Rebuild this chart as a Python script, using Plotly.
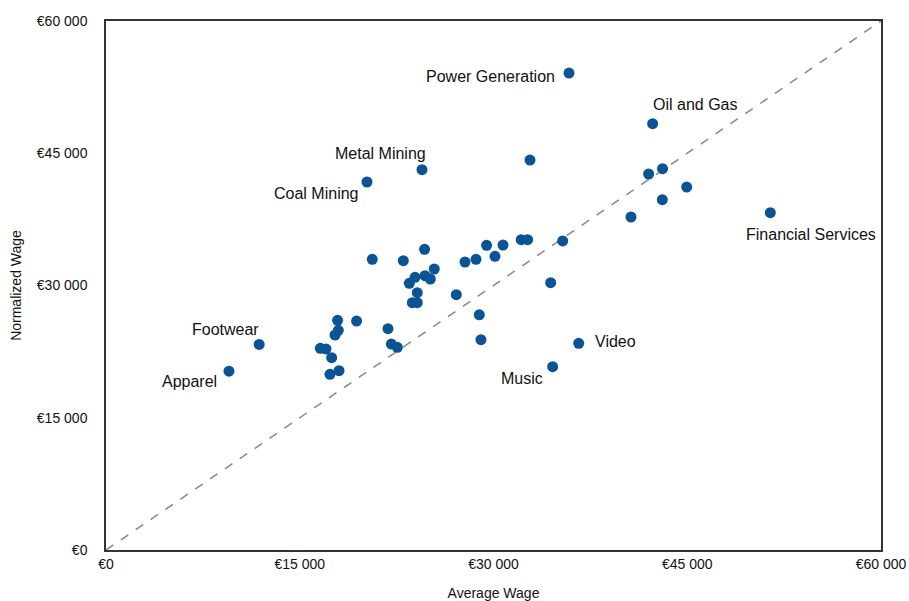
import plotly.graph_objects as go

avg_wage = [9520, 11860, 16590, 17030, 17470, 17340, 18040, 17730, 17985, 17930,
            19400, 20615, 20205, 21830, 22090, 22555, 23018, 23480, 23715, 24100,
            24100, 23922, 24696, 25110, 24665, 25415, 24464, 27120, 27795, 28645,
            28900, 29030, 29465, 30115, 30735, 32145, 32640, 32825, 34425, 34580,
            35355, 35845, 36595, 40645, 42010, 42320, 43090, 43070, 44955, 51430]
norm_wage = [20280, 23320, 22875, 22800, 21810, 19925, 20340, 24385, 24920, 26050,
             25970, 32970, 41740, 25100, 23360, 22990, 32810, 30250, 28050, 28050,
             29180, 30930, 31110, 30735, 34100, 31870, 43132, 28960, 32665, 32970,
             26680, 23850, 34555, 33310, 34590, 35195, 35195, 44230, 30320, 20790,
             35050, 54100, 23440, 37770, 42645, 48350, 43250, 39730, 41170, 38260]

labels = {
    "Apparel": (9520, 20280, -10, -10, "right"),
    "Footwear": (11860, 23320, -69, 15, "left"),
    "Coal Mining": (20205, 41740, -95, -12, "left"),
    "Metal Mining": (24464, 43132, -89, 16, "left"),
    "Power Generation": (35845, 54100, -12, -3, "right"),
    "Oil and Gas": (42320, 48350, -2, 19, "left"),
    "Financial Services": (51430, 38260, -26, -22, "left"),
    "Video": (36595, 23440, 14, 2, "left"),
    "Music": (34580, 20790, -8, -12, "right"),
}

tick_vals = [0, 15000, 30000, 45000, 60000]
tick_text = ["€0", "€15 000", "€30 000", "€45 000", "€60 000"]

fig = go.Figure()
fig.add_trace(go.Scatter(x=[0, 60000], y=[0, 60000], mode="lines",
                         line=dict(color="#888888", width=1.5, dash="dash"),
                         hoverinfo="skip", showlegend=False))
fig.add_trace(go.Scatter(x=avg_wage, y=norm_wage, mode="markers",
                         marker=dict(color="#0a5394", size=11),
                         showlegend=False))

for name, (x, y, dx, dy, al) in labels.items():
    fig.add_annotation(x=x, y=y, text=name, showarrow=False, xshift=dx, yshift=dy,
                       xanchor=al, yanchor="middle",
                       font=dict(size=16, color="#111111"))

axis_common = dict(range=[0, 60000], tickvals=tick_vals, ticktext=tick_text,
                   showgrid=False, zeroline=False, showline=True, linecolor="#333333",
                   linewidth=1.5, mirror=True, ticks="", automargin=False,
                   ticklabeloverflow="allow",
                   tickfont=dict(size=14, color="#111111"))

fig.update_layout(
    width=909, height=601,
    margin=dict(l=106, r=28, t=21, b=51),
    plot_bgcolor="white", paper_bgcolor="white",
    font=dict(family="Liberation Sans, Arial, sans-serif", color="#111111"),
    xaxis=dict(**axis_common, ticklabelstandoff=0,
               title=dict(text="Average Wage", font=dict(size=14), standoff=18)),
    yaxis=dict(**axis_common, ticklabelstandoff=14,
               title=dict(text="Normalized Wage", font=dict(size=14), standoff=12)),
)

fig.write_html("out.html", config={"displayModeBar": False},
               post_script="document.body.style.margin='0';document.body.style.overflow='hidden';")
